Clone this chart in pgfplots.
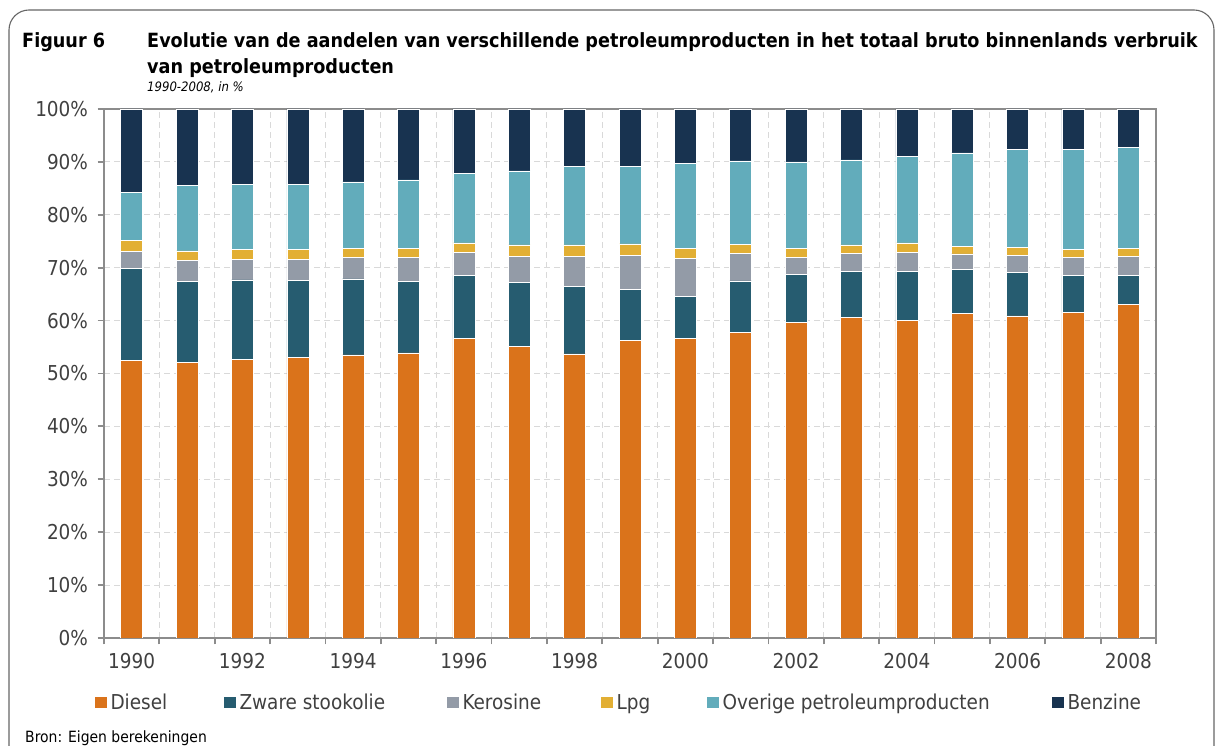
\documentclass[border=0pt]{standalone}
\usepackage{fontspec}
\setmainfont{DejaVu Sans Condensed}
\usepackage{graphicx}
\usepackage{pgfplots}
\usepackage{pgfplotstable}
\pgfplotsset{compat=1.18}

\definecolor{cDiesel}{HTML}{DA731B}
\definecolor{cZware}{HTML}{265C70}
\definecolor{cKero}{HTML}{939BA7}
\definecolor{cLpg}{HTML}{E2AF34}
\definecolor{cOver}{HTML}{62ACBB}
\definecolor{cBenz}{HTML}{183350}
\definecolor{cAxis}{HTML}{8C8C8C}
\definecolor{cGrid}{HTML}{D9D9D9}
\definecolor{cText}{HTML}{404040}

\pgfplotstableread{
year diesel zware kero lpg over benz
1990 52.5 17.4 3.2 2.0  9.1 15.8
1991 52.1 15.3 4.0 1.8 12.4 14.4
1992 52.6 15.1 3.9 1.8 12.3 14.3
1993 53.1 14.5 4.0 1.8 12.4 14.2
1994 53.5 14.4 4.1 1.6 12.6 13.8
1995 53.9 13.5 4.6 1.6 13.0 13.4
1996 56.6 11.9 4.4 1.8 13.1 12.2
1997 55.1 12.1 5.0 2.1 14.0 11.7
1998 53.7 12.8 5.7 2.1 14.9 10.8
1999 56.2  9.7 6.4 2.2 14.7 10.8
2000 56.6  8.0 7.2 1.8 16.1 10.3
2001 57.8  9.7 5.2 1.7 15.8  9.8
2002 59.7  9.1 3.2 1.6 16.4 10.0
2003 60.6  8.7 3.4 1.6 16.1  9.6
2004 60.1  9.2 3.6 1.8 16.3  9.0
2005 61.3  8.4 2.9 1.5 17.6  8.3
2006 60.9  8.2 3.2 1.6 18.4  7.7
2007 61.5  7.0 3.5 1.4 18.9  7.7
2008 63.1  5.5 3.6 1.5 19.1  7.2
}\datatable

\pgfplotsset{sqlegend/.style={legend image code/.code={\fill[##1,draw=none] (0pt,-5.5pt) rectangle (12pt,5.5pt);}}}

\begin{document}
\begin{tikzpicture}
\useasboundingbox (0pt,0pt) rectangle (1215pt,746pt);
\begin{scope}
\clip (0pt,0pt) rectangle (1215pt,746pt);
\draw[color=black!60, line width=1.1pt, rounded corners=20pt] (9pt,-18pt) -- (9pt,736pt) -- (1214pt,736pt) -- (1214pt,-18pt);
\end{scope}

\node[anchor=base west, inner sep=0pt, font=\fontsize{19.6}{23}\selectfont\bfseries] at (22pt,698pt) {Figuur 6};
\node[anchor=base west, inner sep=0pt, font=\fontsize{19.6}{23}\selectfont\bfseries] at (147pt,698pt) {Evolutie van de aandelen van verschillende petroleumproducten in het totaal bruto binnenlands verbruik};
\node[anchor=base west, inner sep=0pt, font=\fontsize{19.6}{23}\selectfont\bfseries] at (147pt,672pt) {van petroleumproducten};
\node[anchor=base west, inner sep=0pt, font=\fontsize{13}{16}\selectfont\itshape] at (147pt,654pt) {1990-2008, in \%};
\node[anchor=base west, inner sep=0pt, font=\fontsize{15.5}{18}\selectfont, text=black] at (25pt,3pt) {Bron: Eigen berekeningen};

\begin{axis}[
  at={(104pt,108pt)}, anchor=south west,
  scale only axis, width=1052pt, height=529pt,
  ybar stacked, bar width=22pt,
  xmin=1989.5, xmax=2008.5, ymin=0, ymax=100,
  xtick={1989.5,1990.5,...,2008.5},
  xticklabels={1990,,1992,,1994,,1996,,1998,,2000,,2002,,2004,,2006,,2008,{}},
  ytick={0,10,...,100},
  xtick pos=bottom, ytick pos=left,
  tick align=outside,
  major tick length=6.5pt,
  tick style={cAxis, line width=1.8pt},
  axis line style={cAxis, line width=1.5pt},
  ymajorgrids, xmajorgrids,
  grid style={cGrid, line width=1pt, dash pattern=on 6pt off 4pt},
  /pgf/number format/assume math mode=true,
  yticklabel={\pgfmathprintnumber{\tick}\%},
  ticklabel style={font=\fontsize{20.5}{24}\selectfont, text=cText},
  yticklabel style={xshift=-6pt},
  xticklabel style={xshift=27.68pt, yshift=-5pt},
  legend columns=6,
  legend style={at={(rel axis cs:-0.0090,-0.122)}, anchor=west, draw=none, fill=none,
     inner sep=0pt, outer sep=0pt, font=\fontsize{20.5}{24}\selectfont, text=cText,
     /tikz/column sep=4pt, nodes={inner sep=0pt}},
  legend cell align=left,
  every axis plot/.append style={draw=white, line width=0.5pt},
]
\addplot[fill=cDiesel, sqlegend] table[x=year,y=diesel]{\datatable};
\addplot[fill=cZware, sqlegend] table[x=year,y=zware]{\datatable};
\addplot[fill=cKero, sqlegend] table[x=year,y=kero]{\datatable};
\addplot[fill=cLpg, sqlegend] table[x=year,y=lpg]{\datatable};
\addplot[fill=cOver, sqlegend] table[x=year,y=over]{\datatable};
\addplot[fill=cBenz, sqlegend] table[x=year,y=benz]{\datatable};
\legend{\makebox[109pt][l]{Diesel},\makebox[203pt][l]{Zware stookolie},\makebox[134pt][l]{Kerosine},\makebox[86pt][l]{Lpg},\makebox[325pt][l]{Overige petroleumproducten},Benzine}
\end{axis}
\end{tikzpicture}
\end{document}
